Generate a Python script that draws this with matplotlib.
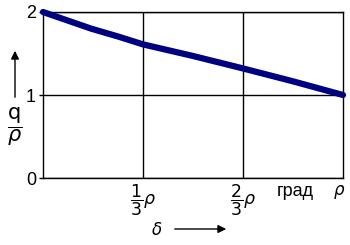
import matplotlib
matplotlib.use("Agg")
import matplotlib.pyplot as plt

plt.rcParams["font.family"] = ["Liberation Sans", "DejaVu Sans"]
plt.rcParams["mathtext.fontset"] = "dejavusans"

x_vals = [0.0, 0.08, 0.16, 0.25, 1/3, 0.5, 2/3, 0.833, 1.0]
y_vals = [2.0, 1.90, 1.80, 1.705, 1.61, 1.47, 1.32, 1.165, 1.0]
x_ticks = [1/3, 2/3]
x_ticklabels = [r"$\dfrac{1}{3}\rho$", r"$\dfrac{2}{3}\rho$"]
y_ticks = [0, 1, 2]
y_ticklabels = ["0", "1", "2"]

fig = plt.figure(figsize=(3.5, 2.45), dpi=100)
ax = fig.add_axes([43/350, 1-178/245, 300/350, 166/245])
ax.plot(x_vals, y_vals, color="#000080", lw=4.5, solid_capstyle="round", zorder=3, clip_on=False)
ax.set_xlim(0, 1)
ax.set_ylim(0, 2)
ax.set_xticks(x_ticks)
ax.set_xticklabels(x_ticklabels, fontsize=12.5)
ax.set_yticks(y_ticks)
ax.set_yticklabels(y_ticklabels, fontsize=13)
ax.tick_params(axis="x", length=0, pad=3)
ax.tick_params(axis="y", length=3, pad=2, width=1)
ax.grid(True, color="black", lw=1)
for s in ax.spines.values():
    s.set_linewidth(1)

fig.text(295/350, 1-192/245, "град", ha="center", va="center", fontsize=13)
fig.text(339/350, 1-192/245, r"$\rho$", ha="center", va="center", fontsize=12)
fig.text(15/350, 1-127/245, r"$\dfrac{\mathsf{q}}{\rho}$", ha="center", va="center", fontsize=15)
fig.text(157/350, 1-229/245, r"$\delta$", ha="center", va="center", fontsize=12)
fig.add_artist(matplotlib.patches.FancyArrowPatch((172/350, 1-229/245), (229/350, 1-229/245),
    transform=fig.transFigure, arrowstyle="-|>", mutation_scale=12, color="black", lw=1))
fig.add_artist(matplotlib.patches.FancyArrowPatch((15/350, 1-100/245), (15/350, 1-48/245),
    transform=fig.transFigure, arrowstyle="-|>", mutation_scale=12, color="black", lw=1))
fig.savefig("out.png", dpi=100)
